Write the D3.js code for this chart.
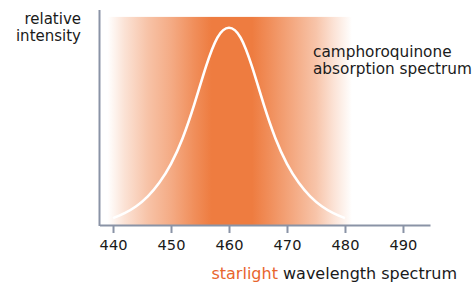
<!DOCTYPE html>
<html>
<head>
<meta charset="utf-8">
<script src="https://cdnjs.cloudflare.com/ajax/libs/d3/7.8.5/d3.min.js"></script>
<style>
    body { margin: 0; background: #fff; }
    #chart { width: 474px; height: 284px; }
    text { font-family: "DejaVu Sans", Verdana, sans-serif; fill: #1a1a1a; }
</style>
</head>
<body>
<div id="chart"></div>
<script>
// data
var wavelengths = [440, 442, 444, 446, 448, 450, 452, 454, 456, 458, 460,
    462, 464, 466, 468, 470, 472, 474, 476, 478, 480];
var intensity = [0.035, 0.06, 0.095, 0.145, 0.215, 0.31, 0.44, 0.61, 0.80, 0.95, 1.00,
    0.95, 0.80, 0.61, 0.44, 0.31, 0.215, 0.145, 0.095, 0.06, 0.035];
var xTicks = [440, 450, 460, 470, 480, 490];
var bandRange = [439.1, 481.2];   // starlight band, nm
var bandTop = 1.055;
// orange strength across the band (nm -> opacity)
var bandStopsNm = [439.1, 442, 446, 450, 454, 457, 464, 467, 471, 475, 478, 481.2];
var bandStopsOp = [0, 0.22, 0.46, 0.64, 0.86, 1, 1, 0.86, 0.66, 0.45, 0.22, 0];

class SpectrumChart {
    constructor(_element) {
        this.element = _element;
        this.initVis();
    }
    initVis() {
        var vis = this;
        vis.svg = d3.select(vis.element)
            .append("svg")
            .attr("width", 474)
            .attr("height", 284);

        vis.x = d3.scaleLinear().domain([437.67, 494.66]).range([99.5, 430]);
        vis.y = d3.scaleLinear().domain([0, 1.09]).range([225, 10]);

        var grad = vis.svg.append("defs").append("linearGradient")
            .attr("id", "band")
            .attr("gradientUnits", "userSpaceOnUse")
            .attr("x1", vis.x(bandRange[0])).attr("x2", vis.x(bandRange[1]))
            .attr("y1", 0).attr("y2", 0);
        var span = bandRange[1] - bandRange[0];
        grad.selectAll("stop")
            .data(bandStopsNm)
            .enter().append("stop")
            .attr("offset", (d) => (d - bandRange[0]) / span)
            .attr("stop-color", "#ee7c40")
            .attr("stop-opacity", (d, i) => bandStopsOp[i]);

        vis.svg.append("rect")
            .attr("x", vis.x(bandRange[0]))
            .attr("y", vis.y(bandTop))
            .attr("width", vis.x(bandRange[1]) - vis.x(bandRange[0]))
            .attr("height", vis.y(0) - vis.y(bandTop))
            .attr("fill", "url(#band)");

        vis.updateVis();
    }
    updateVis() {
        var vis = this;
        var pts = wavelengths.map((w, i) => [w, intensity[i]]);
        var line = d3.line()
            .x((d) => vis.x(d[0]))
            .y((d) => vis.y(d[1]))
            .curve(d3.curveNatural);
        vis.svg.append("path")
            .datum(pts)
            .attr("d", line)
            .attr("fill", "none")
            .attr("stroke", "#fff")
            .attr("stroke-width", 2.6);

        // axes
        var xAxisCall = d3.axisBottom(vis.x)
            .tickValues(xTicks)
            .tickSize(8)
            .tickSizeOuter(0)
            .tickPadding(7);
        var xAxis = vis.svg.append("g")
            .attr("transform", "translate(0," + vis.y(0) + ")")
            .call(xAxisCall);
        xAxis.select(".domain").attr("stroke", "#8a93a6").attr("stroke-width", 2);
        xAxis.selectAll(".tick line").attr("stroke", "#8a93a6").attr("stroke-width", 2);
        xAxis.selectAll(".tick text")
            .attr("font-size", "14.6px")
            .attr("font-family", "DejaVu Sans, sans-serif")
            .attr("fill", "#1a1a1a");

        vis.svg.append("line")
            .attr("x1", vis.x.range()[0]).attr("x2", vis.x.range()[0])
            .attr("y1", vis.y.range()[1]).attr("y2", vis.y(0) + 1)
            .attr("stroke", "#8a93a6")
            .attr("stroke-width", 2);

        // labels
        var ylab = vis.svg.append("text")
            .attr("text-anchor", "end")
            .attr("font-size", "15px");
        ylab.append("tspan").attr("x", 81).attr("y", 24).text("relative");
        ylab.append("tspan").attr("x", 81).attr("y", 41).text("intensity");

        var note = vis.svg.append("text")
            .attr("font-size", "15.3px");
        note.append("tspan").attr("x", 313).attr("y", 57).text("camphoroquinone");
        note.append("tspan").attr("x", 313).attr("y", 74).text("absorption spectrum");

        var xlab = vis.svg.append("text")
            .attr("x", 457)
            .attr("y", 279)
            .attr("text-anchor", "end")
            .attr("font-size", "16px");
        xlab.append("tspan").style("fill", "#e8652e").text("starlight");
        xlab.append("tspan").text(" wavelength spectrum");
    }
}

new SpectrumChart("#chart");
</script>
</body>
</html>
